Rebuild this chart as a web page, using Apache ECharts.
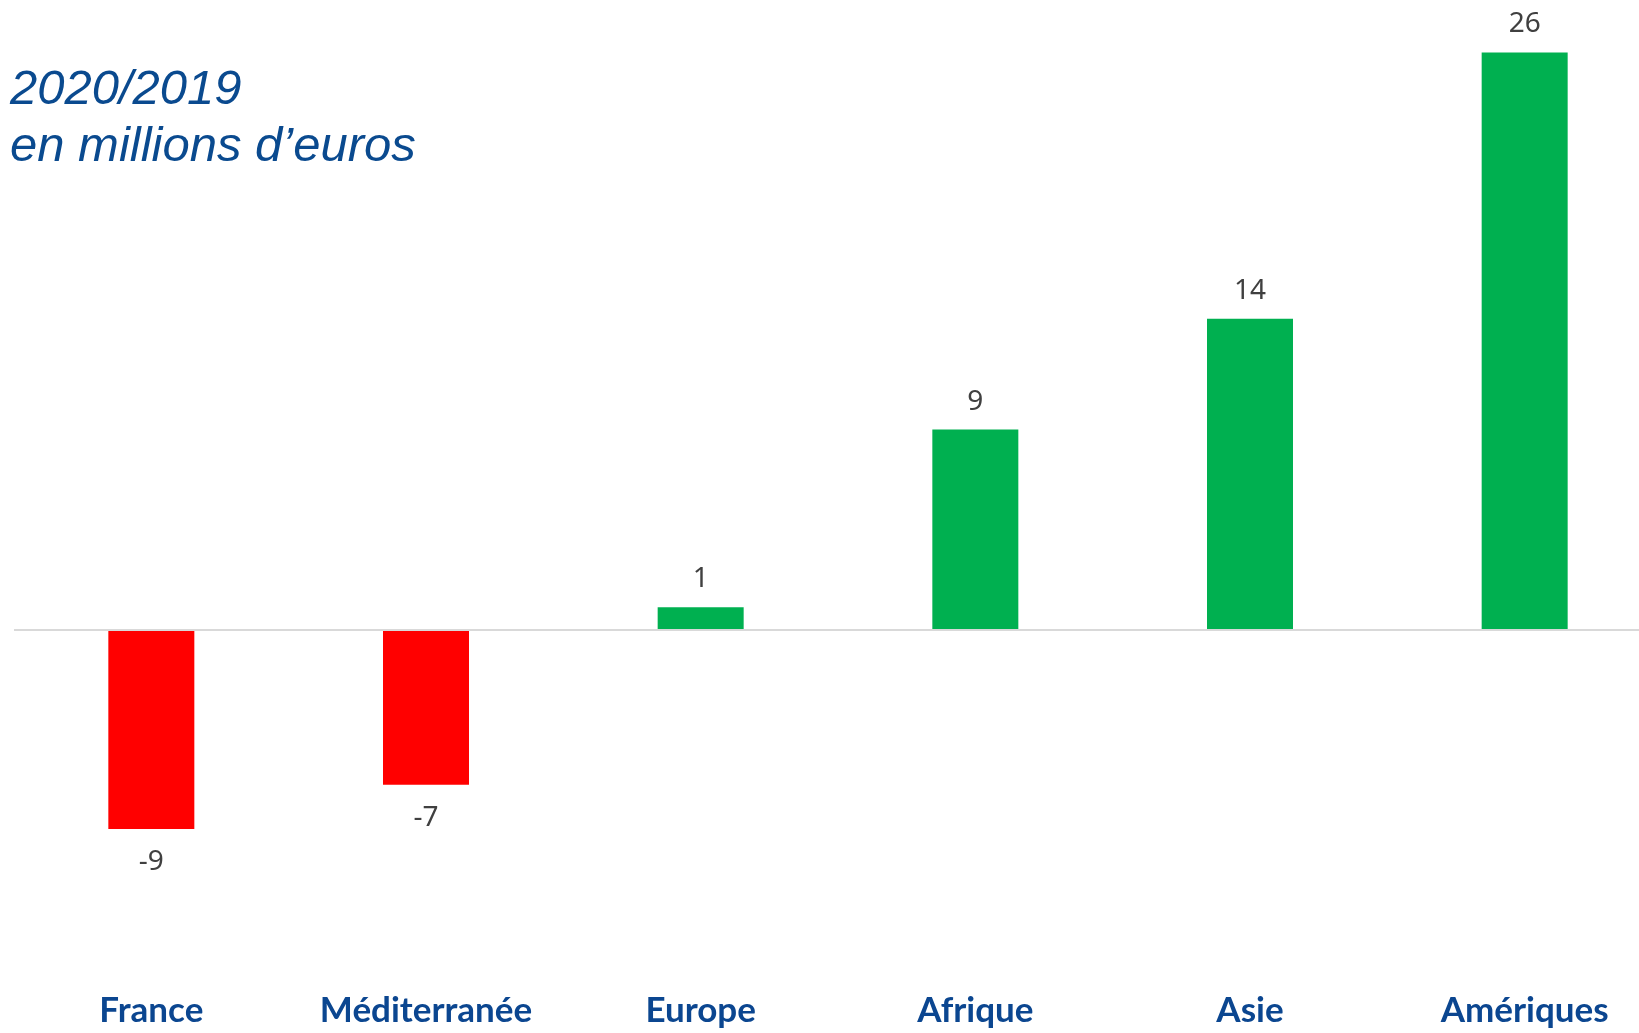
<!DOCTYPE html>
<html>
<head>
<meta charset="utf-8">
<script src="https://cdn.jsdelivr.net/npm/echarts@6/dist/echarts.min.js"></script>
<style>
  html, body { margin: 0; padding: 0; background: #fff; }
  #chart { width: 1639px; height: 1033px; }
</style>
</head>
<body>
<div id="chart"></div>
<script>
const regions = ['France', 'Méditerranée', 'Europe', 'Afrique', 'Asie', 'Amériques'];
const variation = [-9, -7, 1, 9, 14, 26];
const titleLines = ['2020/2019', 'en millions d’euros'];

const chart = echarts.init(document.getElementById('chart'));

// rouge pour les baisses, vert pour les hausses
const barData = variation.map(v => ({
  value: v,
  itemStyle: { color: v < 0 ? '#ff0000' : '#00b050' },
  label: { position: v < 0 ? 'bottom' : 'top', distance: v < 0 ? 19 : 14 }
}));

const option = {
  backgroundColor: '#ffffff',
  title: {
    text: titleLines.join('\n'),
    left: 5,
    top: 57,
    textStyle: {
      fontFamily: 'Liberation Sans, Arial, sans-serif',
      fontStyle: 'italic',
      fontWeight: 'normal',
      fontSize: 49,
      lineHeight: 57,
      color: '#0a4a8f'
    }
  },
  grid: {
    left: 14,
    right: -23,
    top: 8,
    bottom: 93,
    outerBoundsMode: 'none',
    containLabel: false
  },
  xAxis: {
    type: 'category',
    data: regions,
    position: 'bottom',
    axisLine: { show: false, onZero: false },
    axisTick: { show: false },
    axisLabel: {
      interval: 0,
      margin: 53,
      fontFamily: 'Lato, sans-serif',
      fontWeight: 'bold',
      fontSize: 35,
      color: '#0b4690'
    }
  },
  yAxis: {
    type: 'value',
    min: -14,
    max: 28,
    interval: 14,
    show: false,
    splitLine: { show: false }
  },
  series: [
    {
      type: 'bar',
      data: barData,
      barWidth: 86,
      label: {
        show: true,
        fontFamily: 'Noto Sans, sans-serif',
        fontSize: 28,
        color: '#404040'
      },
      markLine: {
        silent: true,
        symbol: 'none',
        label: { show: false },
        lineStyle: { color: '#d9d9d9', width: 2, type: 'solid' },
        data: [{ yAxis: 0 }]
      }
    }
  ]
};

chart.setOption(option);
</script>
</body>
</html>
